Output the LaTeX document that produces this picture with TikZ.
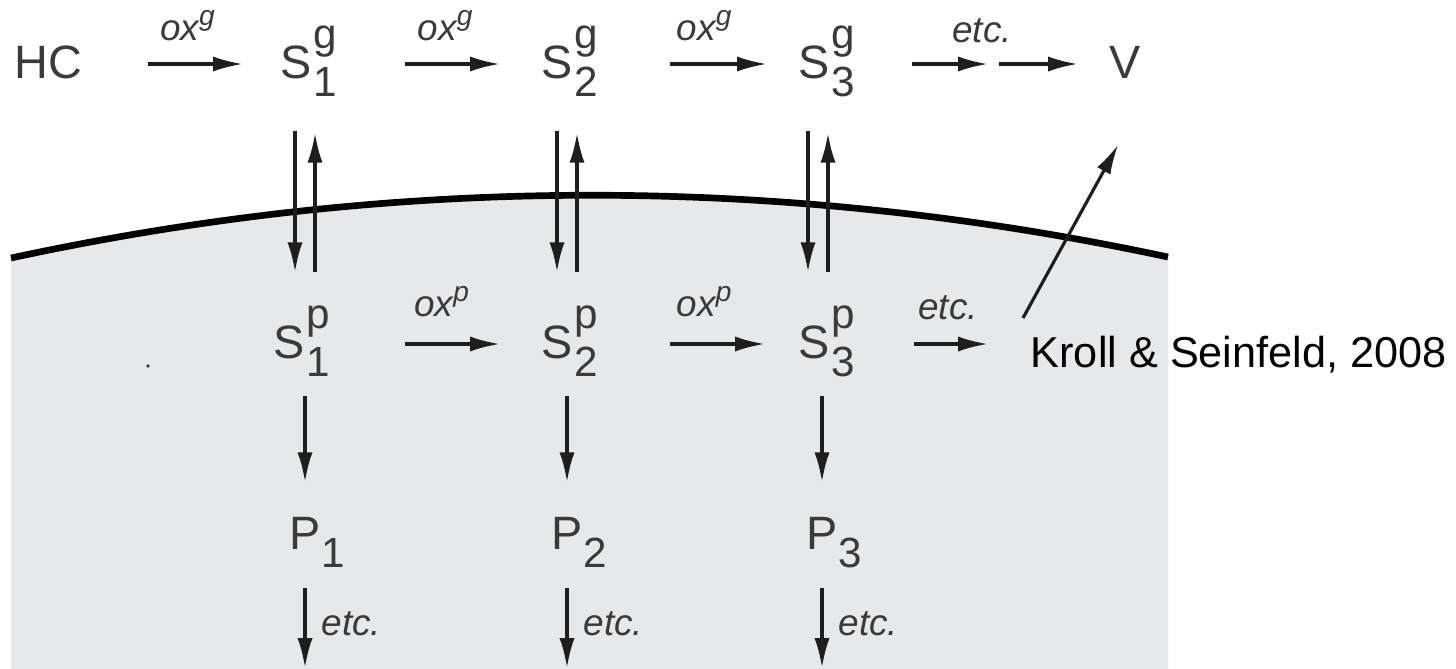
\documentclass[tikz,border=0pt]{standalone}
\usepackage{fontspec}
\setmainfont{Liberation Sans}
\usetikzlibrary{arrows.meta,positioning}
\definecolor{inkgrey}{RGB}{58,58,58}
\definecolor{arrowgrey}{RGB}{30,30,30}
\definecolor{cellgrey}{RGB}{231,232,234}
\newcommand{\subsz}{\fontsize{12}{12}\selectfont}
\newcommand{\svoc}[2]{S\kern.03em\rlap{\raisebox{.64em}{\subsz #1}}\raisebox{-.4em}{\subsz #2}}
\newcommand{\prd}[1]{P\kern.02em\raisebox{-.4em}{\subsz #1}}
\newcommand{\oxs}[1]{ox\raisebox{.4em}{\fontsize{8}{8}\selectfont #1}}
\begin{document}
\begin{tikzpicture}[x=0.01cm,y=-0.01cm,
    spc/.style={inner sep=0,text height=.8em,text depth=0pt,font=\fontsize{13.3}{16}\selectfont,text=inkgrey},
    rlab/.style={inner sep=0,text depth=0pt,font=\fontsize{10.5}{12}\selectfont\itshape,text=inkgrey},
    rxn/.style={draw=arrowgrey,line width=.9pt,-{Latex[length=8.5pt,width=4.3pt]}}]
    \useasboundingbox (0,0) rectangle (1456,669);
    \fill[cellgrey] (11,258) .. controls (396,175) and (780,174) .. (1168,257)
        -- (1168,669) -- (11,669) -- cycle;
    \draw[line width=1.9pt] (11,258) .. controls (396,175) and (780,174) .. (1168,257);
    \fill[inkgrey] (148,366) circle[radius=.5pt];
    \node[spc,anchor=west] (HC) at (14,64) {HC};
    \node[spc,anchor=west] (S1g) at (280,64) {\svoc{g}{1}};
    \node[spc,anchor=west] (S2g) at (541,64) {\svoc{g}{2}};
    \node[spc,anchor=west] (S3g) at (798,64) {\svoc{g}{3}};
    \node[spc,anchor=west] (V) at (1109,64) {V};
    \node[spc,anchor=west] (S1p) at (273,344) {\svoc{p}{1}};
    \node[spc,anchor=west] (S2p) at (541,344) {\svoc{p}{2}};
    \node[spc,anchor=west] (S3p) at (798,344) {\svoc{p}{3}};
    \node[spc,anchor=west] (P1) at (289,535) {\prd{1}};
    \node[spc,anchor=west] (P2) at (551,535) {\prd{2}};
    \node[spc,anchor=west] (P3) at (806,535) {\prd{3}};
    \node[anchor=base west,inner sep=0,font=\fontsize{12.3}{14}\selectfont] (ref) at (1030,367) {Kroll \& Seinfeld, 2008};
    \coordinate (gap) at (993,64);
    \coordinate (tail) at (988,344);
    \coordinate (vfoot) at (1023,318);
    \coordinate (floor) at (0,668);
    \draw[rxn,shorten <=6.5mm,shorten >=3.7mm] (HC) -- (S1g)
        node[rlab,midway,above=2.2mm,xshift=.6mm] {\oxs{g}};
    \draw[rxn,shorten <=6.7mm,shorten >=4.1mm] (S1g) -- (S2g)
        node[rlab,midway,above=2.2mm,xshift=.6mm] {\oxs{g}};
    \draw[rxn,shorten <=7.1mm,shorten >=3.1mm] (S2g) -- (S3g)
        node[rlab,midway,above=2.2mm,xshift=.6mm] {\oxs{g}};
    \draw[rxn,shorten <=5.6mm,shorten >=.5mm] (S3g) -- (gap);
    \draw[rxn,shorten <=.6mm,shorten >=3.1mm] (gap) -- (V);
    \node[rlab,above=2.1mm,xshift=-1.1mm] (etcg) at (gap) {etc.};
    \draw[rxn,shorten <=7.4mm,shorten >=4.1mm] (S1p) -- (S2p)
        node[rlab,midway,above=2.6mm,xshift=.6mm] {\oxs{p}};
    \draw[rxn,shorten <=7.1mm,shorten >=3.3mm] (S2p) -- (S3p)
        node[rlab,midway,above=2.6mm,xshift=.6mm] {\oxs{p}};
    \draw[rxn,shorten <=5.8mm] (S3p) -- (tail);
    \node[rlab,above=2.4mm,xshift=-4mm] (etcp) at (tail) {etc.};
    \draw[rxn,shorten >=7.5mm] (vfoot) -- ([xshift=2.9mm]V.south);
    \foreach \i/\dx in {1/1.5,2/1.6,3/1.0} {
        \coordinate (dn\i) at ([xshift=\dx mm]S\i g.south west);
        \coordinate (up\i) at ([xshift=\dx mm+2mm]S\i g.south west);
        \draw[rxn,shorten <=5.2mm,shorten >=5.7mm] (dn\i) -- (dn\i |- S\i p.north);
        \draw[rxn,shorten <=5.7mm,shorten >=5.4mm] (up\i |- S\i p.north) -- (up\i);
        \coordinate (pd\i) at ([xshift=1.6mm]P\i.north west);
        \draw[rxn,shorten <=3.7mm,shorten >=3.8mm] (pd\i |- S\i p.south) -- (pd\i);
        \draw[rxn,shorten <=3.8mm] (pd\i |- P\i.south) -- (pd\i |- floor)
            node[rlab,pos=.62,right=1.5mm] {etc.};
    }
\end{tikzpicture}
\end{document}
